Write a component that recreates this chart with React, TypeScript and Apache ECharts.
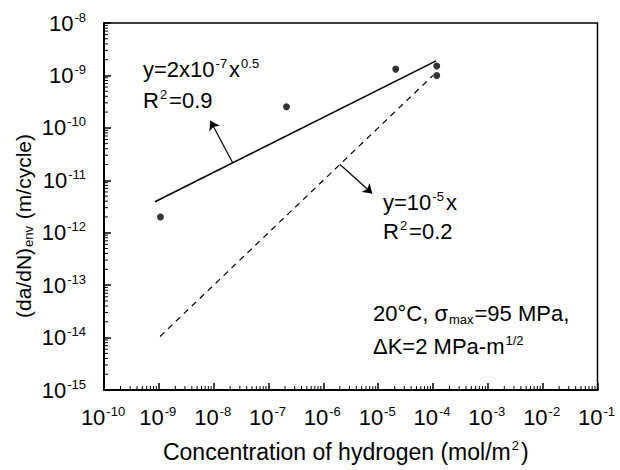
import React, { useEffect, useRef } from "react";
import * as echarts from "echarts";

// Data
const pointsX = [1.07e-9, 2.13e-7, 2.09e-5, 1.17e-4, 1.17e-4];
const pointsY = [2.0e-12, 2.53e-10, 1.32e-9, 1.51e-9, 1.0e-9];
const powerFitX = [8.5e-10, 1.14e-4];
const powerFitY = [3.9e-12, 1.9e-9];
const linearFitX = [1.05e-9, 1.0e-4];
const linearFitY = [1.05e-14, 1.0e-9];
const arrow1 = [[2.2e-8, 2.2e-11], [8.7e-9, 1.37e-10]];
const arrow2 = [[2.02e-6, 2.0e-11], [7.8e-6, 5.6e-12]];
const xMinorDecades = [-10, -9, -8, -7, -6, -5, -4, -3, -2];
const yMinorDecades = [-15, -14, -13, -12, -11, -10, -9];
const minorMultipliers = [2, 3, 4, 5, 6, 7, 8, 9];

const F = "'Liberation Sans', Arial, sans-serif";
const mk = (size: number) => ({
  b: { fontSize: size, lineHeight: size + 3, fontFamily: F, color: "#000" },
  s: { fontSize: 13, lineHeight: 10, verticalAlign: "top", fontFamily: F, color: "#000", padding: [0, 2, 0, 1] },
  u: { fontSize: 13, lineHeight: 10, verticalAlign: "bottom", fontFamily: F, color: "#000", padding: [0, 1, 0, 1] },
});
const richTick = mk(22);
const richText = mk(22);
const richTitle = mk(23);
const richYTitle = mk(21);

const expLabel = (v: number) => {
  const e = Math.round(Math.log10(v));
  return `{b|10}{s|${e}}`;
};

export default function App() {
  const ref = useRef<HTMLDivElement>(null);
  useEffect(() => {
    const chart = echarts.init(ref.current!, undefined, { renderer: "svg" });
    const minorData: number[][] = [];
    xMinorDecades.forEach((d) =>
      minorMultipliers.forEach((m) => minorData.push([m * Math.pow(10, d), 1e-15, 0]))
    );
    yMinorDecades.forEach((d) =>
      minorMultipliers.forEach((m) => minorData.push([1e-10, m * Math.pow(10, d), 1]))
    );
    const arrowStyle = {
      silent: true,
      symbol: ["none", "arrow"],
      symbolSize: 9,
      lineStyle: { color: "#000", width: 1.2, type: "solid" },
      label: { show: false },
    };
    const txt = (x: number, y: number, text: string) => ({
      type: "text",
      x,
      y,
      style: { text, rich: richText, verticalAlign: "middle", align: "left" },
    });
    chart.setOption({
      animation: false,
      textStyle: { fontFamily: F, color: "#000" },
      grid: {
        left: 104,
        right: 19,
        top: 23,
        bottom: 80,
        show: true,
        borderColor: "#000",
        borderWidth: 1.5,
      },
      xAxis: {
        type: "log",
        logBase: 10,
        min: 1e-10,
        max: 1e-1,
        splitNumber: 9,
        axisLine: { lineStyle: { color: "#000", width: 2 } },
        axisTick: { inside: true, length: 7, lineStyle: { color: "#000", width: 1.5 } },
        splitLine: { show: false },
        axisLabel: { formatter: expLabel, rich: richTick, margin: 15 },
        name: "{b|Concentration of hydrogen (mol/m}{s|2}{b|)}",
        nameLocation: "middle",
        nameGap: 49,
        nameTextStyle: { rich: richTitle, padding: [0, 10, 0, 0] },
      },
      yAxis: {
        type: "log",
        logBase: 10,
        min: 1e-15,
        max: 1e-8,
        splitNumber: 7,
        axisLine: { lineStyle: { color: "#000", width: 2 } },
        axisTick: { inside: true, length: 7, lineStyle: { color: "#000", width: 1.5 } },
        splitLine: { show: false },
        axisLabel: { formatter: expLabel, rich: richTick, margin: 16 },
      },
      series: [
        {
          type: "custom",
          silent: true,
          clip: false,
          data: minorData,
          encode: { x: 0, y: 1 },
          renderItem: (params: any, api: any) => {
            const p = api.coord([api.value(0), api.value(1)]);
            const isY = api.value(2) === 1;
            return {
              type: "line",
              shape: isY
                ? { x1: p[0], y1: p[1], x2: p[0] + 4, y2: p[1] }
                : { x1: p[0], y1: p[1], x2: p[0], y2: p[1] - 4 },
              style: { stroke: "#000", lineWidth: 1 },
            };
          },
        },
        {
          type: "line",
          data: powerFitX.map((x, i) => [x, powerFitY[i]]),
          showSymbol: false,
          lineStyle: { color: "#000", width: 1.5 },
          markLine: {
            ...arrowStyle,
            data: [[{ coord: arrow1[0] }, { coord: arrow1[1] }]],
          },
        },
        {
          type: "line",
          data: linearFitX.map((x, i) => [x, linearFitY[i]]),
          showSymbol: false,
          lineStyle: { color: "#000", width: 1.2, type: [6, 5] },
          markLine: {
            ...arrowStyle,
            data: [[{ coord: arrow2[0] }, { coord: arrow2[1] }]],
          },
        },
        {
          type: "scatter",
          data: pointsX.map((x, i) => [x, pointsY[i]]),
          symbol: "circle",
          symbolSize: 7,
          itemStyle: { color: "#000" },
        },
      ],
      graphic: [
        {
          type: "text",
          x: 23,
          y: 226,
          rotation: Math.PI / 2,
          style: {
            text: "{b|(da/dN)}{u|env}{b| (m/cycle)}",
            rich: richYTitle,
            align: "center",
            verticalAlign: "middle",
          },
        },
        txt(143, 69, "{b|y=2x10}{s|-7}{b|x}{s|0.5}"),
        txt(143, 100, "{b|R}{s|2}{b|=0.9}"),
        txt(383, 202, "{b|y=10}{s|-5}{b|x}"),
        txt(383, 231, "{b|R}{s|2}{b|=0.2}"),
        txt(373, 313, "{b|20°C, σ}{u|max}{b|=95 MPa,}"),
        txt(373, 346, "{b|ΔK=2 MPa-m}{s|1/2}"),
      ],
    });
    return () => chart.dispose();
  }, []);
  return (
    <div
      ref={ref}
      style={{ position: "fixed", left: 0, top: 0, width: 620, height: 470, background: "#fff" }}
    />
  );
}
